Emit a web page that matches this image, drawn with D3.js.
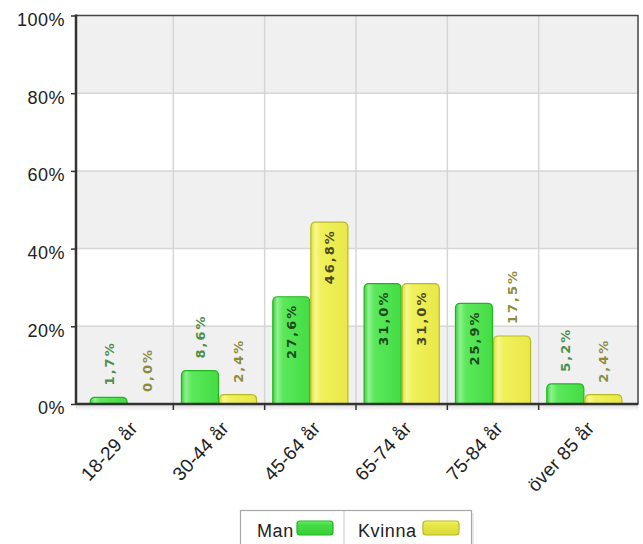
<!DOCTYPE html>
<html><head><meta charset="utf-8">
<script src="https://cdn.jsdelivr.net/npm/d3@7"></script>
<style>body{margin:0;background:#fff}svg{display:block}</style>
</head><body><svg id="c" width="643" height="544"></svg>
<script>
const categories = ["18-29 år","30-44 år","45-64 år","65-74 år","75-84 år","över 85 år"];
const seriesNames = ["Man","Kvinna"];
const manValues = [1.7, 8.6, 27.6, 31.0, 25.9, 5.2];
const kvinnaValues = [0.0, 2.4, 46.8, 31.0, 17.5, 2.4];
const yTicks = [0,20,40,60,80,100];

const svg = d3.select("#c");
const L=76, R=638, T=15.5, B=404;
const defs = svg.append("defs");
function grad(id, c0, hi, c1, c2, vertical){
  const g = defs.append("linearGradient").attr("id",id);
  if(vertical) g.attr("x1",0).attr("y1",0).attr("x2",0).attr("y2",1);
  [[0,c0],[0.12,hi],[0.28,c1],[1,c2]].forEach(s=>g.append("stop").attr("offset",s[0]).attr("stop-color",s[1]));
}
grad("gG","#3ccf3c","#8ef28e","#5be85b","#44dc44",false);
grad("gY","#dede3a","#f7f78c","#f0f05a","#e8e84a",false);
grad("lG","#7df07d","#5ae65a","#45dc45","#38d038",true);
grad("lY","#f5f57a","#eeee58","#e6e646","#dada3c",true);
const sh = defs.append("linearGradient").attr("id","sh").attr("x1",0).attr("y1",0).attr("x2",0).attr("y2",1);
sh.append("stop").attr("offset",0).attr("stop-color","#000").attr("stop-opacity",0.12);
sh.append("stop").attr("offset",1).attr("stop-color","#000").attr("stop-opacity",0);

const y = d3.scaleLinear().domain([0,100]).range([B,T]);
const x0 = d3.scaleBand().domain(categories).range([82,630]).padding(0);
const x1 = d3.scaleBand().domain(seriesNames).range([0,x0.bandwidth()]).paddingInner(0).paddingOuter(0.2);

const FONT = "Liberation Sans, Arial";
// plot background bands
svg.append("rect").attr("x",L).attr("y",T).attr("width",R-L).attr("height",B-T).attr("fill","#fff");
[[0,20],[40,60],[80,100]].forEach(b=>{
  svg.append("rect").attr("x",L).attr("y",y(b[1])).attr("width",R-L).attr("height",y(b[0])-y(b[1])).attr("fill","#f0f0f0");
});
// shadow below axis
svg.append("rect").attr("x",L).attr("y",B+1).attr("width",R-L).attr("height",6).attr("fill","url(#sh)");
// grid
yTicks.slice(1,-1).forEach(t=>{
  svg.append("line").attr("x1",L).attr("x2",R).attr("y1",y(t)).attr("y2",y(t)).attr("stroke","#d6d6d6").attr("stroke-width",1.5);
});
categories.slice(1).forEach(c=>{
  svg.append("line").attr("x1",x0(c)).attr("x2",x0(c)).attr("y1",T).attr("y2",B).attr("stroke","#d6d6d6").attr("stroke-width",1.5);
});

// bars
const data = [manValues, kvinnaValues];
const fills = ["url(#gG)","url(#gY)"], strokes=["#22b522","#b9b925"];
const lblOut = ["#4a8f4a","#8c8c3c"], lblIn = ["#1c4a1c","#4a4a1a"];
function barPath(x,w,yt,yb){
  const r=Math.min(5,(yb-yt));
  return `M${x},${yb}L${x},${yt+r}Q${x},${yt} ${x+r},${yt}L${x+w-r},${yt}Q${x+w},${yt} ${x+w},${yt+r}L${x+w},${yb}Z`;
}
const gBars = svg.append("g");
categories.forEach((c,i)=>{
  seriesNames.forEach((s,k)=>{
    const v = data[k][i];
    const bx = x0(c)+x1(s), bw = x1.bandwidth();
    const yt = y(v);
    if(v>0){
      gBars.append("path").attr("d",barPath(bx+0.5,bw-1,Math.min(yt,B-3),B)).attr("fill",fills[k]).attr("stroke",strokes[k]).attr("stroke-width",1.2);
    }
    const cx = bx+bw/2;
    const inside = v>=20;
    const lx = cx+5, ly = inside ? yt+7 : yt-12;
    gBars.append("text").attr("transform",`translate(${lx},${ly}) rotate(-90)`)
      .attr("text-anchor", inside?"end":"start")
      .attr("font-family","DejaVu Sans").attr("font-weight","bold").attr("font-size","13px")
      .attr("letter-spacing","2px")
      .attr("fill", inside?lblIn[k]:lblOut[k])
      .text(v.toFixed(1).replace(".",",")+"%");
  });
});

// frame
svg.append("rect").attr("x",L).attr("y",T).attr("width",R-L).attr("height",B-T).attr("fill","none").attr("stroke","#444").attr("stroke-width",1.5);
svg.append("line").attr("x1",L).attr("x2",L).attr("y1",T-1).attr("y2",B+1).attr("stroke","#333").attr("stroke-width",2.5);
svg.append("line").attr("x1",L).attr("x2",R).attr("y1",B).attr("y2",B).attr("stroke","#333").attr("stroke-width",2.5);

// y axis
const yAxis = d3.axisLeft(y).tickValues(yTicks).tickFormat(d=>d+"%").tickSize(5).tickPadding(6);
const ga = svg.append("g").attr("transform",`translate(${L},0)`).call(yAxis);
ga.select(".domain").remove();
ga.selectAll("line").attr("stroke","#333").attr("stroke-width",1.5);
ga.selectAll("text").attr("font-family",FONT).attr("font-size","18px").attr("letter-spacing","0.5px").attr("fill","#222").attr("dy","0.55em");

// x axis ticks at boundaries
categories.slice(1).forEach(c=>{
  svg.append("line").attr("x1",x0(c)).attr("x2",x0(c)).attr("y1",B).attr("y2",B+6).attr("stroke","#333").attr("stroke-width",1.5);
});
categories.forEach(c=>{
  const cx = x0(c)+x0.bandwidth()/2;
  svg.append("text").attr("transform",`translate(${cx+11},${B+25}) rotate(-47)`)
    .attr("text-anchor","end").attr("font-family",FONT).attr("font-size","19px").attr("letter-spacing","0.2px")
    .attr("fill","#222").text(c);
});

// legend
const lg = svg.append("g");
lg.append("rect").attr("x",243).attr("y",513).attr("width",231).attr("height",40).attr("fill","#000").attr("opacity",0.08);
lg.append("rect").attr("x",240.5).attr("y",510.5).attr("width",231).attr("height",40).attr("fill","#fff").attr("stroke","#a8a8a8").attr("stroke-width",1.2);
lg.append("line").attr("x1",344).attr("x2",344).attr("y1",511).attr("y2",544).attr("stroke","#d0d0d0").attr("stroke-width",1.2);
const legItems = [{name:seriesNames[0],tx:257,sx:297,f:"url(#lG)",s:strokes[0]},{name:seriesNames[1],tx:358,sx:423,f:"url(#lY)",s:strokes[1]}];
legItems.forEach(it=>{
  lg.append("text").attr("x",it.tx).attr("y",537).attr("font-family",FONT).attr("font-size","18px").attr("letter-spacing","0.6px").attr("fill","#222").text(it.name);
  lg.append("rect").attr("x",it.sx).attr("y",521).attr("width",36).attr("height",14).attr("rx",3).attr("fill",it.f).attr("stroke",it.s).attr("stroke-width",1.2);
});
</script></body></html>
